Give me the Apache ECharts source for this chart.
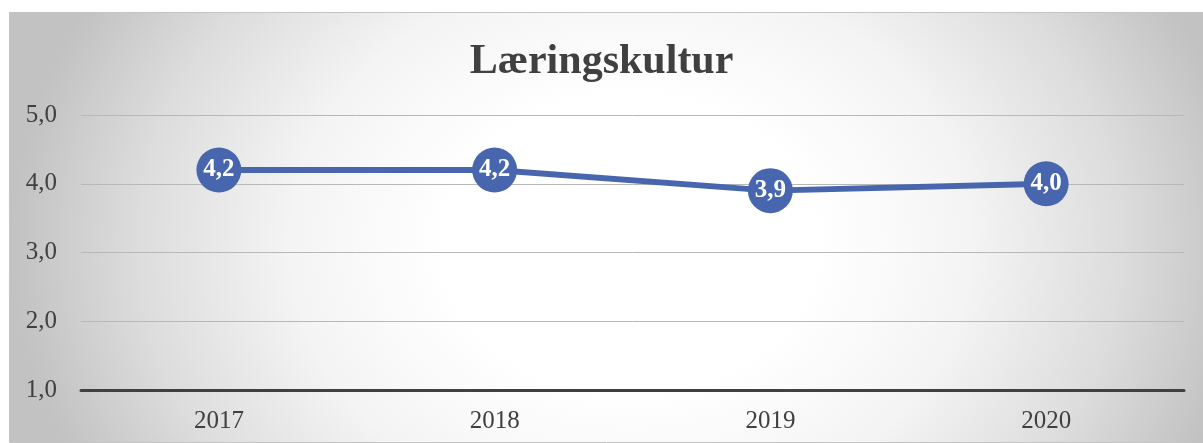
<!DOCTYPE html>
<html>
<head>
<meta charset="utf-8">
<script src="https://cdn.jsdelivr.net/npm/echarts@6/dist/echarts.min.js"></script>
<style>
html,body{margin:0;padding:0;background:#fff;}
#c{width:1203px;height:443px;}
</style>
</head>
<body>
<div id="c"></div>
<script>
const titleText = 'Læringskultur';
const categories = ['2017', '2018', '2019', '2020'];
const values = [4.2, 4.2, 3.9, 4.0];
const yMin = 1, yMax = 5, yInterval = 1;

const chart = echarts.init(document.getElementById('c'), null, {renderer: 'canvas'});
const BX = 9, BY = 12, BW = 1194, BH = 430, S = 0.8;
chart.setOption({
  animation: false,
  graphic: [
    {
      type: 'rect', z: -10, silent: true,
      x: BX, y: BY, scaleY: S,
      shape: {x: 0, y: 0, width: BW, height: BH / S},
      style: {
        fill: new echarts.graphic.RadialGradient(0.52, 0.54, 1.15, [
          {offset: 0, color: '#ffffff'},
          {offset: 0.3, color: '#ffffff'},
          {offset: 0.55, color: '#f4f4f4'},
          {offset: 0.8, color: '#dcdcdc'},
          {offset: 1, color: '#c2c2c2'}
        ])
      }
    },
    {
      type: 'rect', z: -9, silent: true,
      shape: {x: BX + 0.5, y: BY + 0.5, width: BW, height: BH},
      style: {fill: 'none', stroke: '#c4c4c4', lineWidth: 1}
    }
  ],
  title: {
    text: titleText, left: 'center', top: 36,
    textStyle: {fontFamily: 'Liberation Serif', fontWeight: 'bold', fontSize: 42, color: '#404040'}
  },
  grid: {left: 81, right: 19, top: 115, bottom: 53, containLabel: false},
  xAxis: {
    type: 'category', data: categories, boundaryGap: true,
    axisLine: {show: true, lineStyle: {color: '#404040', width: 3}},
    axisTick: {show: false},
    axisLabel: {margin: 19, fontFamily: 'Liberation Serif', fontSize: 25, color: '#404040'}
  },
  yAxis: {
    type: 'value', min: yMin, max: yMax, interval: yInterval,
    axisLine: {show: false}, axisTick: {show: false},
    splitLine: {lineStyle: {color: '#b8b8b8', width: 1}},
    axisLabel: {
      margin: 24, fontFamily: 'Liberation Serif', fontSize: 25, color: '#404040',
      formatter: v => v.toFixed(1).replace('.', ',')
    }
  },
  series: [{
    type: 'line', data: values,
    symbol: 'circle', symbolSize: 45,
    lineStyle: {color: '#4866ad', width: 6},
    itemStyle: {color: '#4866ad', borderWidth: 0},
    label: {
      show: true, position: 'inside',
      fontFamily: 'Liberation Serif', fontWeight: 'bold', fontSize: 25, color: '#ffffff',
      formatter: p => p.value.toFixed(1).replace('.', ',')
    }
  }]
});
</script>
</body>
</html>
